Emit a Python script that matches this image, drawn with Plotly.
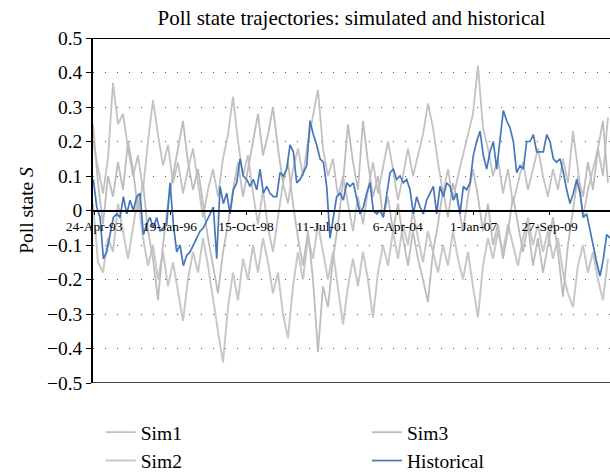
import pandas as pd
import plotly.graph_objects as go

# ---------------- data ----------------
hist_start = "1993-04-13"
hist_step = "1054h"
historical = [
    0.09, 0.01, -0.02, -0.14, -0.12, -0.07, -0.02, -0.01, -0.02, 0.04,
    -0.01, 0.03, 0.00, 0.04, 0.05, -0.07, -0.04, -0.02, -0.05, -0.02,
    -0.06, -0.05, -0.04, 0.08, -0.04, -0.12, -0.10, -0.16, -0.13, -0.12,
    -0.10, -0.08, -0.06, -0.05, -0.03, -0.01, 0.01, -0.14, 0.07, 0.02,
    0.05, -0.01, 0.06, 0.08, 0.15, 0.10, 0.09, 0.07, 0.09, 0.06,
    0.12, 0.05, 0.07, 0.05, 0.04, 0.04, 0.11, 0.10, 0.12, 0.19,
    0.17, 0.08, 0.09, 0.11, 0.13, 0.26, 0.22, 0.19, 0.15, 0.14,
    0.07, -0.08, -0.02, 0.04, 0.05, 0.03, 0.08, 0.07, 0.08,
    0.03, -0.01, 0.01, 0.05, 0.08, 0.00, -0.01, 0.00, -0.02, 0.04,
    0.11, 0.12, 0.09, 0.10, 0.08, 0.09, 0.06, -0.01, 0.04, 0.01,
    -0.01, 0.03, 0.05, 0.07, -0.01, 0.07, 0.04, 0.08, 0.07, 0.03,
    0.05, -0.01, 0.07, 0.06, 0.08, 0.16, 0.20, 0.23, 0.16,
    0.12, 0.17, 0.20, 0.12, 0.20, 0.29, 0.26, 0.24, 0.20, 0.11,
    0.13, 0.12, 0.20, 0.20, 0.22, 0.17, 0.17, 0.17, 0.22, 0.20,
    0.15, 0.14, 0.15, 0.11, 0.06, 0.02, 0.05, 0.09, 0.05, -0.02,
    -0.01, -0.06, -0.10, -0.15, -0.19, -0.14, -0.07, -0.08,
]

sim_start = "1993-04-08"
sim_step = "1581h"
sim1 = [
    0.20, 0.12, 0.05, 0.15, 0.37, 0.25, 0.28, 0.18, 0.10, 0.16,
    0.06, 0.20, 0.32, 0.22, 0.13, 0.19, 0.08, 0.14, 0.05, 0.12,
    0.18, 0.08, -0.02, 0.06, 0.12, 0.04, 0.15, 0.22, 0.33, 0.20,
    0.10, 0.16, 0.05, -0.04, 0.06, -0.05, -0.12, -0.02, 0.08, 0.02,
    0.12, 0.18, 0.10, 0.20, 0.28, 0.35, 0.18, 0.10, 0.15, 0.04,
    0.10, 0.02, -0.06, 0.04, -0.04, 0.06, 0.14, 0.05, 0.12, 0.20,
    0.12, 0.03, 0.10, 0.18, 0.10, 0.16, 0.22, 0.31, 0.24, 0.14,
    0.05, 0.12, 0.03, 0.10, 0.16, 0.22, 0.28, 0.42, 0.24, 0.18,
    0.10, 0.15, 0.05, 0.12, 0.02, 0.08, 0.14, 0.06, 0.12, 0.18,
    0.10, 0.04, 0.12, 0.06, 0.15, 0.08, 0.23, 0.12, -0.02, 0.06,
    0.12, 0.18, 0.10, 0.27,
]
sim2 = [
    0.02, -0.15, -0.18, -0.08, -0.12, 0.02, -0.06, -0.14, -0.05, 0.04,
    -0.08, -0.16, -0.10, -0.20, -0.12, -0.22, -0.15, -0.24, -0.32, -0.20,
    -0.12, -0.18, -0.08, -0.16, -0.26, -0.35, -0.44, -0.28, -0.18, -0.26,
    -0.14, -0.20, -0.10, -0.18, -0.08, -0.15, -0.24, -0.18, -0.30, -0.37,
    -0.22, -0.12, -0.20, -0.08, -0.14, -0.04, -0.12, -0.20, -0.12, -0.22,
    -0.33, -0.22, -0.14, -0.22, -0.12, -0.20, -0.31, -0.18, -0.10, -0.16,
    -0.06, -0.14, -0.04, -0.10, 0.00, -0.08, -0.15, -0.06, -0.12, -0.18,
    -0.10, -0.16, -0.06, -0.14, -0.20, -0.12, -0.22, -0.31, -0.16, -0.08,
    -0.14, -0.06, -0.12, -0.04, -0.10, -0.16, -0.08, -0.02, -0.10, -0.04,
    -0.12, -0.06, -0.14, -0.08, -0.18, -0.24, -0.28, -0.16, -0.10, -0.18,
    -0.12, -0.20, -0.26, -0.14,
]
sim3 = [
    0.25, 0.08, -0.04, 0.10, 0.04, 0.14, 0.06, 0.20, 0.12, 0.00,
    0.08, -0.06, -0.14, -0.26, -0.10, 0.02, 0.10, 0.18, 0.26, 0.14,
    0.06, 0.12, 0.02, -0.08, -0.16, -0.24, -0.12, -0.04, 0.06, 0.14,
    0.04, 0.12, 0.20, 0.28, 0.16, 0.22, 0.30, 0.18, 0.08, 0.14,
    0.02, -0.08, -0.16, -0.06, -0.20, -0.41, -0.22, -0.28, -0.14, -0.04,
    0.08, 0.25, 0.14, 0.06, 0.26, 0.14, 0.04, 0.10, -0.02, 0.04,
    -0.06, 0.02, -0.08, -0.16, -0.06, -0.14, -0.20, -0.265, -0.12, -0.04,
    0.06, -0.02, 0.08, 0.02, -0.06, 0.04, 0.12, 0.04, -0.06, 0.02,
    -0.10, -0.04, -0.14, -0.06, 0.04, -0.04, -0.12, -0.04, -0.16, -0.08,
    -0.18, -0.10, -0.02, -0.12, -0.25, -0.10, 0.00, 0.10, 0.04, 0.14,
    0.06, 0.18, 0.26, 0.08,
]

tick_dates = ["1993-04-24", "1996-01-19", "1998-10-15", "2001-07-11",
              "2004-04-06", "2007-01-01", "2009-09-27"]
tick_labels = ["24-Apr-93", "19-Jan-96", "15-Oct-98", "11-Jul-01",
               "6-Apr-04", "1-Jan-07", "27-Sep-09"]
y_ticks = [0.5, 0.4, 0.3, 0.2, 0.1, 0.0, -0.1, -0.2, -0.3, -0.4, -0.5]
y_labels = ["0.5", "0.4", "0.3", "0.2", "0.1", "0",
            "\u22120.1", "\u22120.2", "\u22120.3", "\u22120.4", "\u22120.5"]
x_range = ["1993-04-08", "2011-12-02"]

# ---------------- figure ----------------
hist_x = pd.date_range(hist_start, periods=len(historical), freq=hist_step)
sim_x = pd.date_range(sim_start, periods=len(sim1), freq=sim_step)

FONT = "Liberation Serif"
BLUE = "#4677b8"

fig = go.Figure()
fig.add_trace(go.Scatter(x=sim_x, y=sim1, mode="lines", name="Sim1",
                         line=dict(color="#c2c2c2", width=1.8), legend="legend"))
fig.add_trace(go.Scatter(x=sim_x, y=sim2, mode="lines", name="Sim2",
                         line=dict(color="#c8c8c8", width=2.0), legend="legend"))
fig.add_trace(go.Scatter(x=sim_x, y=sim3, mode="lines", name="Sim3",
                         line=dict(color="#bdbdbd", width=1.8), legend="legend2"))
fig.add_trace(go.Scatter(x=hist_x, y=historical, mode="lines", name="Historical",
                         line=dict(color=BLUE, width=1.7), legend="legend2"))

fig.update_layout(
    width=610, height=474,
    margin=dict(l=93, r=0, t=38, b=91, autoexpand=False),
    paper_bgcolor="white", plot_bgcolor="white",
    font=dict(family=FONT, size=19, color="black"),
    title=dict(text="Poll state trajectories: simulated and historical",
               x=0.5, xref="paper", xanchor="center",
               y=0.962, yref="container", yanchor="middle",
               font=dict(family=FONT, size=21)),
    xaxis=dict(type="date", range=x_range, tickvals=tick_dates, ticktext=tick_labels,
               showgrid=False, zeroline=False, showline=True, linecolor="black",
               linewidth=1.5, ticks="outside", ticklen=4, tickcolor="black",
               anchor="free", position=0.5, tickfont=dict(size=13.5)),
    yaxis=dict(range=[-0.5, 0.5], tickvals=y_ticks, ticktext=y_labels,
               showgrid=True, gridcolor="#555555", griddash="1px,11px", gridwidth=1,
               zeroline=False, showline=True, linecolor="black", linewidth=1.5,
               ticks="outside", ticklen=5, tickcolor="black",
               title=dict(text="Poll state <i>S</i>", font=dict(size=19.5), standoff=8),
               tickfont=dict(size=19.5)),
    legend=dict(x=0.015, y=-0.087, xanchor="left", yanchor="top",
                font=dict(size=19.5), bgcolor="rgba(0,0,0,0)", tracegroupgap=0),
    legend2=dict(x=0.53, y=-0.087, xanchor="left", yanchor="top",
                 font=dict(size=19.5), bgcolor="rgba(0,0,0,0)", tracegroupgap=0),
    shapes=[
        dict(type="line", xref="paper", yref="y", x0=0, x1=1, y0=0.5, y1=0.5,
             line=dict(color="black", width=1.8)),
        dict(type="line", xref="paper", yref="y", x0=0, x1=1, y0=-0.5, y1=-0.5,
             line=dict(color="black", width=1.5)),
    ],
)

fig.write_html("out.html", post_script="document.body.style.margin='0px';",
               config={"displayModeBar": False})
